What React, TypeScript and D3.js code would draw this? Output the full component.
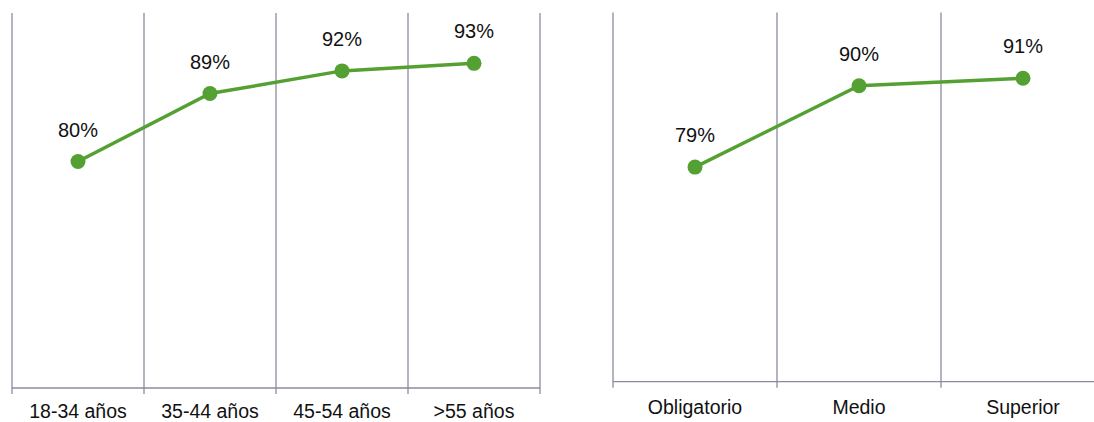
import React from "react";
import * as d3 from "d3";

const ageCategories = ["18-34 años", "35-44 años", "45-54 años", ">55 años"];
const ageValues = [80, 89, 92, 93];
const eduCategories = ["Obligatorio", "Medio", "Superior"];
const eduValues = [79, 90, 91];
const yDomain = [50, 100];

const GRID = "#8b8ba0";
const GREEN = "#55a033";
const FONT = "'Liberation Sans', Arial, sans-serif";

function Panel({ cats, vals, x0, x1, top, base, yTop, labelDy }: { cats: string[]; vals: number[]; x0: number; x1: number; top: number; base: number; yTop: number; labelDy: number }) {
  const x = d3.scaleBand<string>().domain(cats).range([x0, x1]).padding(0);
  const y = d3.scaleLinear().domain(yDomain).range([base, yTop]);
  const bw = x.bandwidth();
  const bounds = cats.map((c) => x(c)!).concat([x1]);
  const line = d3
    .line<number>()
    .x((_, i) => x(cats[i])! + bw / 2)
    .y((d) => y(d));
  return (
    <g>
      {bounds.map((b, i) => (
        <line key={i} x1={b} x2={b} y1={top} y2={base + 6} stroke={GRID} strokeWidth={1.3} />
      ))}
      <line x1={x0} x2={x1} y1={base} y2={base} stroke={GRID} strokeWidth={1.3} />
      {cats.map((c) => (
        <text key={c} x={x(c)! + bw / 2} y={base + labelDy} textAnchor="middle" fontSize={19.5} fontFamily={FONT} fill="#111">
          {c}
        </text>
      ))}
      <path d={line(vals) || ""} fill="none" stroke={GREEN} strokeWidth={3.5} />
      {vals.map((v, i) => (
        <g key={i}>
          <circle cx={x(cats[i])! + bw / 2} cy={y(v)} r={7.5} fill={GREEN} />
          <text x={x(cats[i])! + bw / 2} y={y(v) - 25} textAnchor="middle" fontSize={20} fontFamily={FONT} fill="#111">
            {v}%
          </text>
        </g>
      ))}
    </g>
  );
}

export default function App() {
  return (
    <svg width={1094} height={422} style={{ position: "absolute", left: 0, top: 0, background: "#fff" }}>
      <Panel cats={ageCategories} vals={ageValues} x0={12} x1={540} top={13} base={388} yTop={10.5} labelDy={29.5} />
      <Panel cats={eduCategories} vals={eduValues} x0={613} x1={1105} top={12.5} base={381.7} yTop={11.7} labelDy={32.5} />
    </svg>
  );
}
